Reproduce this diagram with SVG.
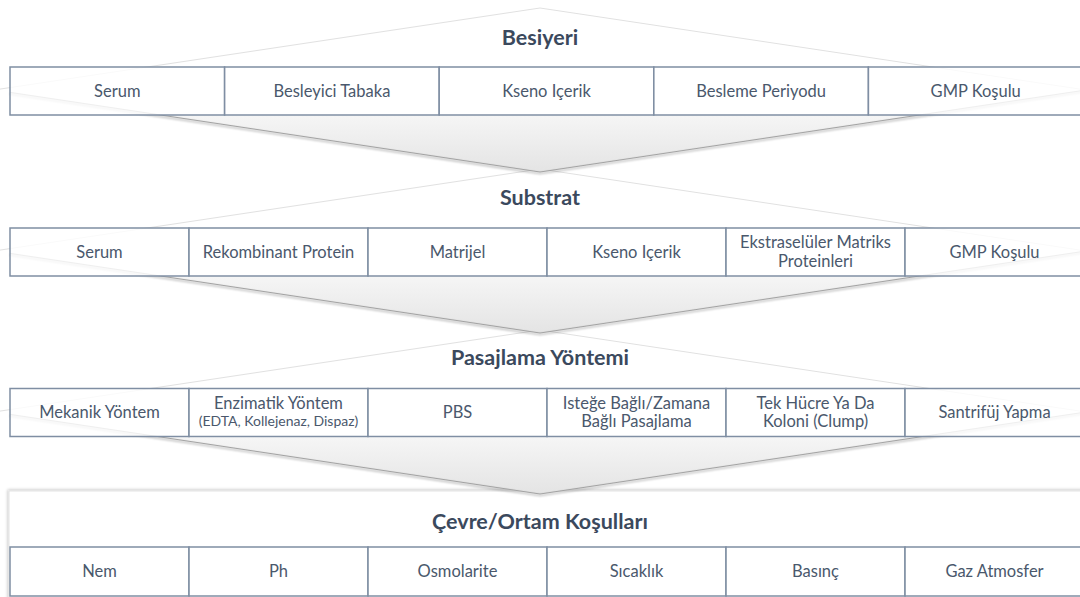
<svg xmlns="http://www.w3.org/2000/svg" width="1080" height="597" viewBox="0 0 1080 597">
  <style>
    .cell { fill: #ffffff; fill-opacity: 0.82; stroke: #7f8ea3; stroke-width: 1.5; }
    .txt { font-family: Lato, "Open Sans", "Liberation Sans", sans-serif; font-size: 16.5px; fill: #4a586c; text-anchor: middle; }
    .small { font-size: 14px; }
    .title { font-family: Lato, "Open Sans", "Liberation Sans", sans-serif; font-size: 21.5px; font-weight: bold; fill: #3b495d; text-anchor: middle; }
    .edge-top { fill: none; stroke: #e1e1e1; stroke-width: 1; }
    .edge-bot { fill: none; stroke: #a3a3a3; stroke-width: 1; }
    .edge-shadow { fill: none; stroke: #000000; stroke-opacity: 0.28; stroke-width: 1.6; filter: url(#soft); }
  </style>
  <defs>
    <filter id="soft" x="-5%" y="-50%" width="110%" height="200%">
      <feGaussianBlur stdDeviation="1.1"/>
    </filter>
    <filter id="boxShadow" x="-2%" y="-10%" width="104%" height="120%">
      <feGaussianBlur in="SourceAlpha" stdDeviation="1.4"/>
      <feOffset dx="-1" dy="-1" result="b"/>
      <feComponentTransfer><feFuncA type="linear" slope="0.22"/></feComponentTransfer>
      <feMerge><feMergeNode/><feMergeNode in="SourceGraphic"/></feMerge>
    </filter>
    <linearGradient id="fill1" gradientUnits="userSpaceOnUse" x1="0" y1="8" x2="0" y2="172">
      <stop offset="0" stop-color="#ffffff"/>
      <stop offset="0.65" stop-color="#ffffff"/>
      <stop offset="0.66" stop-color="#f5f5f5"/>
      <stop offset="1" stop-color="#e4e4e4"/>
    </linearGradient>
    <linearGradient id="fill2" gradientUnits="userSpaceOnUse" x1="0" y1="169" x2="0" y2="333">
      <stop offset="0" stop-color="#ffffff"/>
      <stop offset="0.65" stop-color="#ffffff"/>
      <stop offset="0.66" stop-color="#f5f5f5"/>
      <stop offset="1" stop-color="#e4e4e4"/>
    </linearGradient>
    <linearGradient id="fill3" gradientUnits="userSpaceOnUse" x1="0" y1="330" x2="0" y2="494">
      <stop offset="0" stop-color="#ffffff"/>
      <stop offset="0.65" stop-color="#ffffff"/>
      <stop offset="0.66" stop-color="#f5f5f5"/>
      <stop offset="1" stop-color="#e4e4e4"/>
    </linearGradient>
  </defs>

  <rect width="1080" height="597" fill="#ffffff"/>

  <!-- Environment / culture conditions panel (lowest layer) -->
  <g id="cevre-ortam">
    <rect x="9" y="491" width="1080" height="110" fill="#ffffff" stroke="#e4e4e4" stroke-width="1" filter="url(#boxShadow)"/>
    <text class="title" x="540" y="528.5">Çevre/Ortam Koşulları</text>
    <g id="cevre-nem"><rect class="cell" x="10" y="547" width="179" height="49"/><text class="txt" x="99.5" y="577">Nem</text></g>
    <g id="cevre-ph"><rect class="cell" x="189" y="547" width="179" height="49"/><text class="txt" x="278.5" y="577">Ph</text></g>
    <g id="cevre-osmolarite"><rect class="cell" x="368" y="547" width="179" height="49"/><text class="txt" x="457.5" y="577">Osmolarite</text></g>
    <g id="cevre-sicaklik"><rect class="cell" x="547" y="547" width="179" height="49"/><text class="txt" x="636.5" y="577">Sıcaklık</text></g>
    <g id="cevre-basinc"><rect class="cell" x="726" y="547" width="179" height="49"/><text class="txt" x="815.5" y="577">Basınç</text></g>
    <g id="cevre-gaz"><rect class="cell" x="905" y="547" width="179" height="49"/><text class="txt" x="994.5" y="577">Gaz Atmosfer</text></g>
  </g>

  <!-- Downward arrow bands linking each stage to the next -->
  <g id="connectors">
    <g id="arrow-3">
      <polygon points="540,330 -6,412 540,494 1086,412" fill="url(#fill3)"/>
      <polyline class="edge-top" points="-6,412 540,330 1086,412"/>
      <polyline class="edge-shadow" points="10,415.9 540,495.5 1086,413.5"/>
      <polyline class="edge-bot" points="10,414.4 540,494 1086,412"/>
    </g>
    <g id="arrow-2">
      <polygon points="540,169 -6,251 540,333 1086,251" fill="url(#fill2)"/>
      <polyline class="edge-top" points="-6,251 540,169 1086,251"/>
      <polyline class="edge-shadow" points="10,254.9 540,334.5 1086,252.5"/>
      <polyline class="edge-bot" points="10,253.4 540,333 1086,251"/>
    </g>
    <g id="arrow-1">
      <polygon points="540,8 -6,90 540,172 1086,90" fill="url(#fill1)"/>
      <polyline class="edge-top" points="-6,90 540,8 1086,90"/>
      <polyline class="edge-shadow" points="10,93.9 540,173.5 1086,91.5"/>
      <polyline class="edge-bot" points="10,92.4 540,172 1086,90"/>
    </g>
  </g>

  <!-- Stage 1: culture medium -->
  <g id="besiyeri">
    <text class="title" x="540" y="44.5">Besiyeri</text>
    <g id="besiyeri-serum"><rect class="cell" x="10" y="67" width="214.6" height="48"/><text class="txt" x="117.3" y="96.5">Serum</text></g>
    <g id="besiyeri-tabaka"><rect class="cell" x="224.6" y="67" width="214.6" height="48"/><text class="txt" x="331.9" y="96.5">Besleyici Tabaka</text></g>
    <g id="besiyeri-kseno"><rect class="cell" x="439.2" y="67" width="214.6" height="48"/><text class="txt" x="546.5" y="96.5">Kseno Içerik</text></g>
    <g id="besiyeri-periyot"><rect class="cell" x="653.8" y="67" width="214.6" height="48"/><text class="txt" x="761.1" y="96.5">Besleme Periyodu</text></g>
    <g id="besiyeri-gmp"><rect class="cell" x="868.4" y="67" width="214.6" height="48"/><text class="txt" x="975.7" y="96.5">GMP Koşulu</text></g>
  </g>

  <!-- Stage 2: substrate -->
  <g id="substrat">
    <text class="title" x="540" y="204.5">Substrat</text>
    <g id="substrat-serum"><rect class="cell" x="10" y="228" width="179" height="48"/><text class="txt" x="99.5" y="257.5">Serum</text></g>
    <g id="substrat-protein"><rect class="cell" x="189" y="228" width="179" height="48"/><text class="txt" x="278.5" y="257.5">Rekombinant Protein</text></g>
    <g id="substrat-matrijel"><rect class="cell" x="368" y="228" width="179" height="48"/><text class="txt" x="457.5" y="257.5">Matrijel</text></g>
    <g id="substrat-kseno"><rect class="cell" x="547" y="228" width="179" height="48"/><text class="txt" x="636.5" y="257.5">Kseno Içerik</text></g>
    <g id="substrat-ekm"><rect class="cell" x="726" y="228" width="179" height="48"/><text class="txt" x="815.5" y="248">Ekstraselüler Matriks</text><text class="txt" x="815.5" y="266.5">Proteinleri</text></g>
    <g id="substrat-gmp"><rect class="cell" x="905" y="228" width="179" height="48"/><text class="txt" x="994.5" y="257.5">GMP Koşulu</text></g>
  </g>

  <!-- Stage 3: passaging method -->
  <g id="pasajlama">
    <text class="title" x="540" y="364.5">Pasajlama Yöntemi</text>
    <g id="pasaj-mekanik"><rect class="cell" x="10" y="388.5" width="179" height="48"/><text class="txt" x="99.5" y="418">Mekanik Yöntem</text></g>
    <g id="pasaj-enzimatik"><rect class="cell" x="189" y="388.5" width="179" height="48"/><text class="txt" x="278.5" y="409">Enzimatik Yöntem</text><text class="txt small" x="278.5" y="426">(EDTA, Kollejenaz, Dispaz)</text></g>
    <g id="pasaj-pbs"><rect class="cell" x="368" y="388.5" width="179" height="48"/><text class="txt" x="457.5" y="418">PBS</text></g>
    <g id="pasaj-zaman"><rect class="cell" x="547" y="388.5" width="179" height="48"/><text class="txt" x="636.5" y="409">Isteğe Bağlı/Zamana</text><text class="txt" x="636.5" y="427">Bağlı Pasajlama</text></g>
    <g id="pasaj-koloni"><rect class="cell" x="726" y="388.5" width="179" height="48"/><text class="txt" x="815.5" y="409">Tek Hücre Ya Da</text><text class="txt" x="815.5" y="427">Koloni (Clump)</text></g>
    <g id="pasaj-santrifuj"><rect class="cell" x="905" y="388.5" width="179" height="48"/><text class="txt" x="994.5" y="418">Santrifüj Yapma</text></g>
  </g>
</svg>
